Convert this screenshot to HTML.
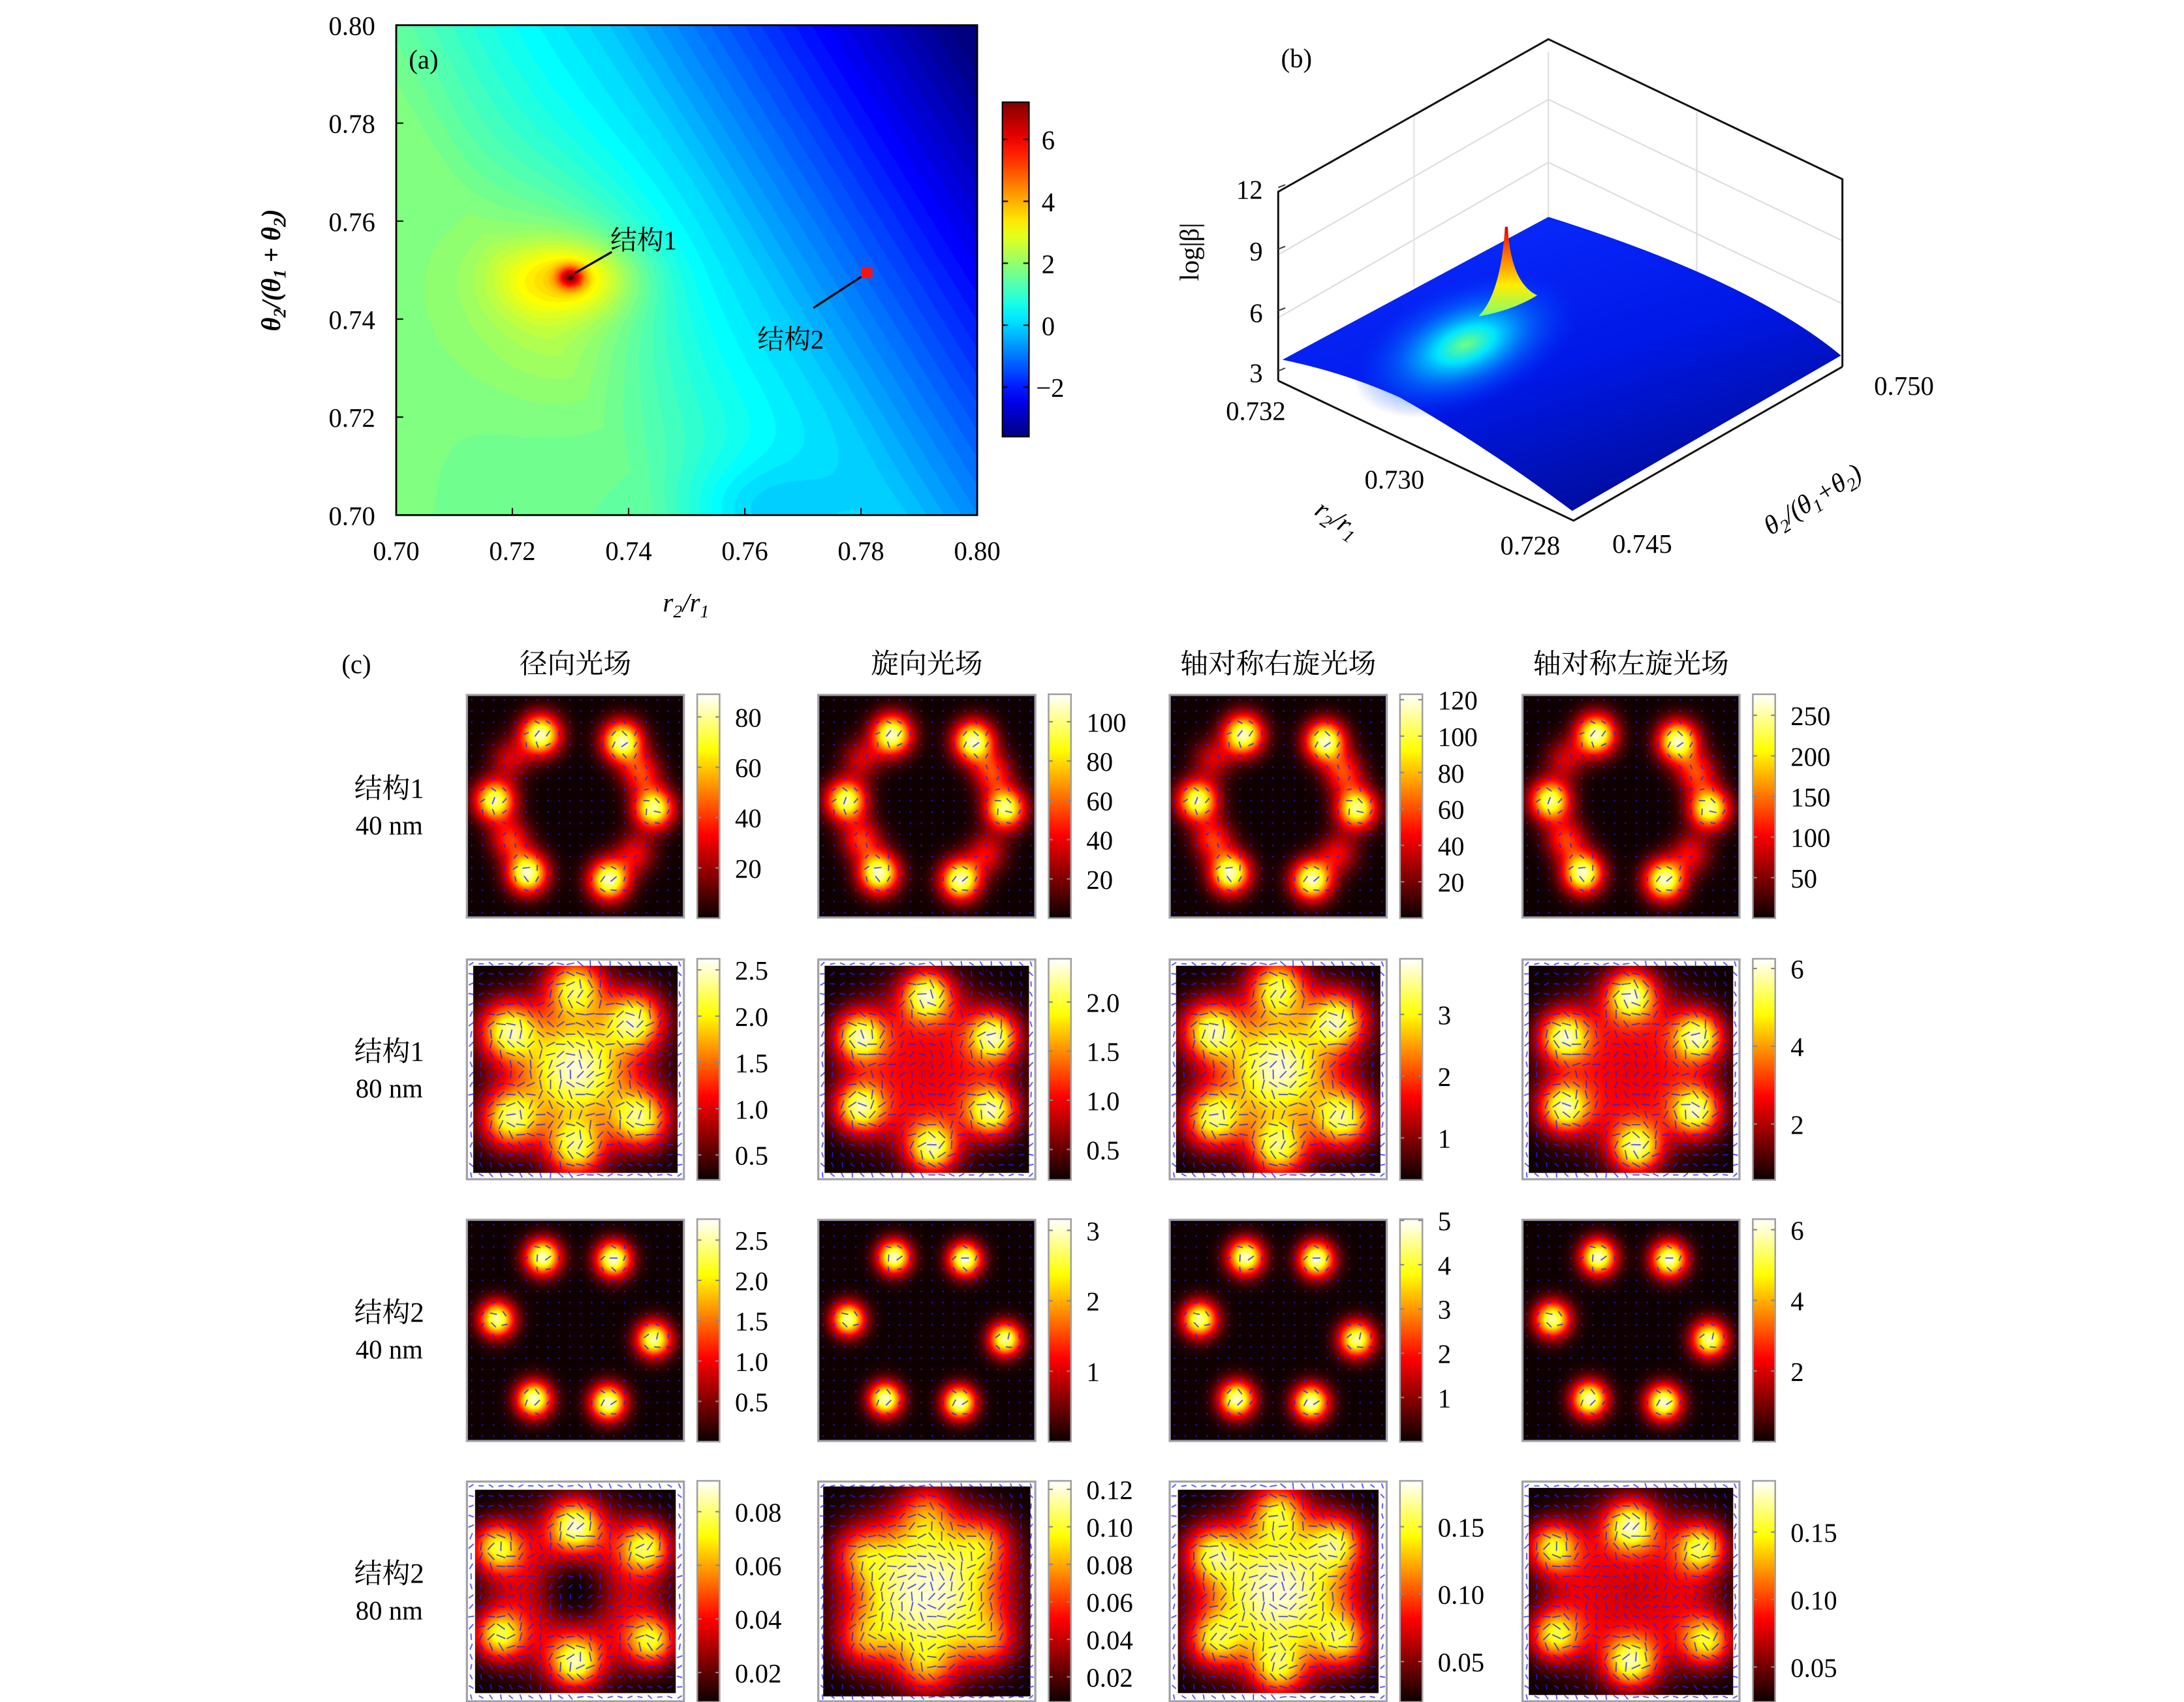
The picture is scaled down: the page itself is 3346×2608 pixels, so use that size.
<!DOCTYPE html>
<html><head><meta charset="utf-8">
<style>
html,body{margin:0;padding:0;background:#fff;}
body{width:3346px;height:2608px;overflow:hidden;position:relative;}
#root{position:absolute;left:0;top:0;width:1560px;height:1216px;transform:scale(2.144872,2.144737);transform-origin:0 0;}
canvas{position:absolute;}
svg{position:absolute;left:0;top:0;}
text{font-family:"Liberation Serif","Noto Serif CJK SC",serif;fill:#000;}
.cjk{font-family:"Liberation Serif","Noto Serif CJK SC","Noto Sans CJK SC",serif;}
</style></head>
<body>
<div id="root">
<canvas id="fieldA" width="830" height="700" style="left:283px;top:18px;width:415px;height:350px"></canvas>
<svg id="svg" width="1560" height="1216" viewBox="0 0 1560 1216">
<defs>
<linearGradient id="jetbar" x1="0" y1="1" x2="0" y2="0"></linearGradient>
<linearGradient id="hotbar" x1="0" y1="1" x2="0" y2="0">
<stop offset="0" stop-color="#0a0000"/><stop offset="0.375" stop-color="#ff0000"/><stop offset="0.75" stop-color="#ffff00"/><stop offset="1" stop-color="#ffffff"/>
</linearGradient>
<linearGradient id="surfBlue" x1="0.2" y1="0" x2="0.8" y2="1">
<stop offset="0" stop-color="#0a2cff"/><stop offset="0.5" stop-color="#0018e8"/><stop offset="1" stop-color="#000a8a"/>
</linearGradient>
<radialGradient id="glow" cx="0.5" cy="0.5" r="0.5">
<stop offset="0" stop-color="#70ff80" stop-opacity="1"/><stop offset="0.25" stop-color="#00f0ff" stop-opacity="0.95"/><stop offset="0.6" stop-color="#0080ff" stop-opacity="0.55"/><stop offset="1" stop-color="#0030ff" stop-opacity="0"/>
</radialGradient>
<linearGradient id="spikeGrad" x1="0" y1="1" x2="0" y2="0">
<stop offset="0" stop-color="#80ff70"/><stop offset="0.35" stop-color="#ffee00"/><stop offset="0.65" stop-color="#ff8000"/><stop offset="1" stop-color="#e00000"/>
</linearGradient>
</defs>
<g id="panelA"></g>
<g id="panelB"></g>
<g id="panelC"></g>
</svg>
</div>
<script>
// ---------- data ----------
const aXTicks = [0.70,0.72,0.74,0.76,0.78,0.80];
const aYTicks = [0.70,0.72,0.74,0.76,0.78,0.80];
const aCbarTicks = [6,4,2,0,-2];
const aCbarRange = [-3.6, 7.2];
const struct1 = [0.730, 0.7485];
const struct2 = [0.781, 0.7495];
const bZTicks = [3,6,9,12];
const bRTicks = ["0.732","0.730","0.728"];
const bThTicks = ["0.745","0.750"];
const colTitles = ["径向光场","旋向光场","轴对称右旋光场","轴对称左旋光场"];
const rowLabels = [["结构1","40 nm"],["结构1","80 nm"],["结构2","40 nm"],["结构2","80 nm"]];
const cbarRanges = [
 [0,89],[0,114],[0,123],[0,276],
 [0.23,2.62],[0.19,2.44],[0.32,3.9],[0.56,6.25],
 [0,2.76],[0,3.16],[0,5.03],[0,6.3],
 [0.009,0.0915],[0.0066,0.1245],[0.02,0.184],[0.024,0.188]];
const cbarTicks = [
 [20,40,60,80],[20,40,60,80,100],[20,40,60,80,100,120],[50,100,150,200,250],
 [0.5,1.0,1.5,2.0,2.5],[0.5,1.0,1.5,2.0],[1,2,3],[2,4,6],
 [0.5,1.0,1.5,2.0,2.5],[1,2,3],[1,2,3,4,5],[2,4,6],
 [0.02,0.04,0.06,0.08],[0.02,0.04,0.06,0.08,0.10,0.12],[0.05,0.10,0.15],[0.05,0.10,0.15]];
const tickDecimals = [0,0,0,0, 1,1,0,0, 1,0,0,0, 2,2,2,2];
const ring40a = [[-0.32,-0.64,1],[0.43,-0.58,1],[-0.74,-0.05,0.95],[0.72,0.02,0.95],[-0.44,0.6,1],[0.31,0.66,1],[0.6,-0.3,0.45],[-0.6,0.3,0.45],[-0.6,-0.42,0.3],[0.55,0.42,0.35]];
const ring40b = [[-0.3,-0.66,1],[0.35,-0.64,1],[-0.72,-0.1,0.95],[0.72,0.08,0.95],[-0.38,0.62,1],[0.3,0.65,1]];
const hex80a = [[-0.62,-0.35,0.85],[0.55,-0.45,0.85],[-0.6,0.45,0.85],[0.6,0.45,0.85],[0,-0.75,0.8],[0,0.72,0.8]];
const hex80b = [[0,-0.68,1],[0.62,-0.3,1],[0.6,0.38,1],[0.05,0.72,1],[-0.62,0.35,1],[-0.62,-0.3,1]];
const cross80 = [[0,-0.6,0.95],[0,0.65,0.95],[-0.72,-0.4,0.95],[0.65,-0.4,0.95],[-0.7,0.4,0.95],[0.7,0.45,0.95]];
const cellLobes = [ring40a,ring40a,ring40a,ring40a, hex80a,hex80b,hex80a,hex80b, ring40b,ring40b,ring40b,ring40b, cross80,hex80a,hex80a,cross80];
const cellLobeScale = [1,1,1,1, 0.75,1,0.75,1, 1,1,1,1, 1,0.35,0.55,1];
const cellSigma = [0.18,0.18,0.18,0.18, 0.26,0.22,0.26,0.22, 0.16,0.15,0.16,0.16, 0.22,0.24,0.24,0.22];
const cellCenter = [0,0,0,0, 0.8,0.4,0.8,0.4, 0,0,0,0, 0,0.85,0.8,0.35];
const cellCenterSigma = [0.3,0.3,0.3,0.3, 0.45,0.45,0.45,0.45, 0.3,0.3,0.3,0.3, 0.25,0.5,0.45,0.35];
const cellBase = [0,0,0,0, 0.1,0.3,0.1,0.3, 0,0,0,0, 0.4,0.3,0.3,0.4];
const cellMargin = [0.01,0.01,0.01,0.01, 0.06,0.06,0.06,0.06, 0.01,0.01,0.01,0.01, 0.08,0.05,0.08,0.06];

// ---------- helpers ----------
const NS="http://www.w3.org/2000/svg";
function el(tag, attrs, parent){const e=document.createElementNS(NS,tag);for(const k in attrs)e.setAttribute(k,attrs[k]);if(parent)parent.appendChild(e);return e;}
function txt(s, x, y, size, anchor, parent, extra){const t=el('text',Object.assign({x:x,y:y,'font-size':size,'text-anchor':anchor||'start'},extra||{}),parent);t.textContent=s;return t;}
function clamp(v){return v<0?0:v>1?1:v;}
function jet(t){t=clamp(t);const r=clamp(1.5-Math.abs(4*t-3)),g=clamp(1.5-Math.abs(4*t-2)),b=clamp(1.5-Math.abs(4*t-1));return [r*255,g*255,b*255];}
function hot(t){t=clamp(t);return [clamp(t/0.375)*255,clamp((t-0.375)/0.375)*255,clamp((t-0.75)/0.25)*255];}
const A=document.getElementById('panelA'), B=document.getElementById('panelB'), C=document.getElementById('panelC');

// ---------- panel A ----------
const aL=283,aR=698,aT=18,aB=368;
function ax(v){return aL+(v-0.70)/0.10*(aR-aL);}
function ay(v){return aB-(v-0.70)/0.10*(aB-aT);}
(function(){
 const cv=document.getElementById('fieldA'),ctx=cv.getContext('2d');const W=cv.width,H=cv.height;
 const img=ctx.createImageData(W,H);
 for(let j=0;j<H;j++)for(let i=0;i<W;i++){
  const u=i/(W-1), w=1-j/(H-1);
  const s=u+0.52*w;
  const d=Math.max(0,s-0.45);
  let v=1.55-3.8*d-2*Math.max(0,d-0.42);
  v+=0.9*Math.exp(-((u-0.28)**2)/0.03-((w-0.45)**2)/0.05);
  v-=0.9*Math.exp(-((u-0.62)**2)/0.02-((w-0.0)**2)/0.012);
  v+=0.2*Math.exp(-((u-0.0)**2)/0.02);
  const du=(u*0.1+0.7-struct1[0]), dw=(w*0.1+0.7-struct1[1]);
  v+=1.6*Math.exp(-(du*du/(0.011*0.011)+dw*dw/(0.0075*0.0075)));
  v+=3.5*Math.exp(-(du*du+dw*dw)/(0.0022*0.0022));
  let t=(v-aCbarRange[0])/(aCbarRange[1]-aCbarRange[0]);
  t=Math.round(t*64)/64;
  const c=jet(t),k=(j*W+i)*4;img.data[k]=c[0];img.data[k+1]=c[1];img.data[k+2]=c[2];img.data[k+3]=255;
 }
 ctx.putImageData(img,0,0);
 ctx.fillStyle='#300000';ctx.beginPath();ctx.arc((struct1[0]-0.7)/0.1*W,(1-(struct1[1]-0.7)/0.1)*H,3,0,7);ctx.fill();
})();
let r=el('rect',{x:aL,y:aT,width:aR-aL,height:aB-aT,fill:'none',stroke:'#000','stroke-width':1.3},A);

aXTicks.forEach(v=>{const x=ax(v);el('line',{x1:x,y1:aB,x2:x,y2:aB-5,stroke:'#000'},A);const t=txt(v.toFixed(2),x,aB+32,19,'middle',A);
 });
aYTicks.forEach(v=>{const y=ay(v);el('line',{x1:aL,y1:y,x2:aL+5,y2:y,stroke:'#000'},A);const t=txt(v.toFixed(2),268,y+7,19,'end',A);
 });
let tl=txt('',490,437,19,'middle',A,{'font-style':'italic'});tl.innerHTML='r<tspan font-size="13" dy="4">2</tspan><tspan dy="-4">/r</tspan><tspan font-size="13" dy="4">1</tspan>';

tl=txt('',0,0,19,'middle',A,{transform:'translate(200,193) rotate(-90)','font-style':'italic','font-weight':'bold'});
tl.innerHTML='θ<tspan font-size="13" dy="4">2</tspan><tspan dy="-4">/(θ</tspan><tspan font-size="13" dy="4">1</tspan><tspan dy="-4"> + θ</tspan><tspan font-size="13" dy="4">2</tspan><tspan dy="-4">)</tspan>';

tl=txt('(a)',292,49,19,'start',A);
let m=el('line',{x1:ax(struct1[0])+3,y1:ay(struct1[1])-3,x2:437,y2:180,stroke:'#000','stroke-width':1.5},A);

tl=txt('结构1',436,178,19,'start',A,{class:'cjk'});
m=el('rect',{x:ax(struct2[0])-4,y:ay(struct2[1])-4,width:8,height:8,fill:'#ff1010'},A);

m=el('line',{x1:ax(struct2[0])-4,y1:ay(struct2[1])+3,x2:581,y2:220,stroke:'#000','stroke-width':1.5},A);

tl=txt('结构2',541,249,19,'start',A,{class:'cjk'});
(function(){const g=document.getElementById('jetbar');for(let i=0;i<=20;i++){const c=jet(i/20);el('stop',{offset:i/20,'stop-color':`rgb(${c.map(Math.round).join(',')})`},g);}})();
const cbT=73,cbB=312,cbL=716,cbW=19;
function cby(v){return cbB-(v-aCbarRange[0])/(aCbarRange[1]-aCbarRange[0])*(cbB-cbT);}
r=el('rect',{x:cbL,y:cbT,width:cbW,height:cbB-cbT,fill:'url(#jetbar)',stroke:'#000','stroke-width':1},A);

aCbarTicks.forEach(v=>{const y=cby(v);el('line',{x1:cbL+cbW-4,y1:y,x2:cbL+cbW,y2:y,stroke:'#000'},A);el('line',{x1:cbL,y1:y,x2:cbL+4,y2:y,stroke:'#000'},A);
 const t=txt(v<0?'−'+Math.abs(v):String(v),v<0?740:744,y+7,19,'start',A);});

// ---------- panel B ----------
(function(){
 const gl=(pts,stroke,w)=>el('polyline',{points:pts,fill:'none',stroke:stroke,'stroke-width':w||1},B);
 gl('913,182 1106,71 1316,172','#ddd');gl('913,227 1106,116 1316,217','#ddd');
 gl('1106,37 1106,155','#ddd');gl('1212,80 1212,205','#ddd');gl('1010,81 1010,205','#e4e4e4');
 let f=gl('913,272 913,137 1106,28 1316,128 1316,262','#111',1.4);
 let s=el('path',{d:'M916,257 L1106,155 Q1250,200 1315,254 L1123,365 Q1060,318 1000,284 Q960,266 916,257 Z',fill:'url(#surfBlue)'},B);
 
 s=el('ellipse',{cx:1047,cy:246,rx:85,ry:45,fill:'url(#glow)',transform:'rotate(-22 1047 246)'},B);
 
 s=el('path',{d:'M1056,226 Q1072,210 1075,162 L1077,162 Q1079,202 1098,211 Q1080,222 1056,226 Z',fill:'url(#spikeGrad)'},B);
 
 f=gl('913,272 1124,372 1316,262','#111',1.4);
 const zT=[265,222,178,134];
 bZTicks.forEach((v,i)=>{el('line',{x1:913,y1:zT[i],x2:918,y2:zT[i]-2,stroke:'#444'},B);const t=txt(String(v),902,zT[i]+8,19,'end',B);
  });
 const rP=[[897,300],[996,349],[1093,396]];
 bRTicks.forEach((v,i)=>{const t=txt(v,rP[i][0],rP[i][1],19,'middle',B);});
 const thP=[[1173,395],[1360,282]];
 bThTicks.forEach((v,i)=>{const t=txt(v,thP[i][0],thP[i][1],19,'middle',B);});
 let t=txt('',0,0,19,'middle',B,{transform:'translate(952,376) rotate(33)','font-style':'italic'});
 t.innerHTML='r<tspan font-size="13" dy="4">2</tspan><tspan dy="-4">/r</tspan><tspan font-size="13" dy="4">1</tspan>';
 
 t=txt('',0,0,19,'middle',B,{transform:'translate(1298,362) rotate(-32)','font-style':'italic'});
 t.innerHTML='θ<tspan font-size="13" dy="4">2</tspan><tspan dy="-4">/(θ</tspan><tspan font-size="13" dy="4">1</tspan><tspan dy="-4">+θ</tspan><tspan font-size="13" dy="4">2</tspan><tspan dy="-4">)</tspan>';
 
 t=txt('log|β|',0,0,19,'middle',B,{transform:'translate(856,180) rotate(-90)'});
 
 t=txt('(b)',915,48,19,'start',B);
})();

// ---------- panel C ----------
const colX=[333,584,835,1087], cellW=156;
const rowY=[496,685,871,1058], cellH=[160,158,159,158];
const cbX=[498,749,1000,1252], cbWc=16;
let t=txt('(c)',244,481,19,'start',C);
colTitles.forEach((s,i)=>{const t=txt(s,colX[i]+cellW/2,481,20,'middle',C,{class:'cjk'});});
rowLabels.forEach((rl,i)=>{const cy=rowY[i]+cellH[i]/2;
 let t=txt(rl[0],278,cy-6,20,'middle',C,{class:'cjk'});
 t=txt(rl[1],278,cy+20,19,'middle',C);});
const root=document.getElementById('root');
for(let ri=0;ri<4;ri++)for(let ci=0;ci<4;ci++){
 const k=ri*4+ci, x0=colX[ci], y0=rowY[ri], h=cellH[ri];
 const cv=document.createElement('canvas');
 
 
 const S=3; cv.width=cellW*S; cv.height=h*S;
 cv.style.left=x0+'px';cv.style.top=y0+'px';cv.style.width=cellW+'px';cv.style.height=h+'px';
 root.insertBefore(cv,document.getElementById('svg'));
 const ctx=cv.getContext('2d'),W=cv.width,H=cv.height,img=ctx.createImageData(W,H);
 const lobes=cellLobes[k],sg=cellSigma[k],mg=cellMargin[k],ls=cellLobeScale[k];
 const raw=(nx,ny)=>{const rr=Math.sqrt(nx*nx+ny*ny);
  let v=cellBase[k]*Math.exp(-((rr-0.5)**2)/0.12);
  v+=cellCenter[k]*Math.exp(-(rr*rr)/(cellCenterSigma[k]**2));
  for(const L of lobes){const dx=nx-L[0],dy=ny-L[1];v+=ls*L[2]*Math.exp(-(dx*dx+dy*dy)/(sg*sg));}
  if(ri===3&&ci===0) v*=1-0.9*Math.exp(-(rr*rr)/0.04);
  return Math.max(0,v);};
 let mx=0;for(let a=0;a<=60;a++)for(let b=0;b<=60;b++){mx=Math.max(mx,raw(-1+a/30,-1+b/30));}
 const intensity=(nx,ny)=>raw(nx,ny)/mx;
 for(let j=0;j<H;j++)for(let i=0;i<W;i++){
  const nx=(i/(W-1))*2-1, ny=(j/(H-1))*2-1, q=(j*W+i)*4;
  let c;
  if(Math.abs(nx)>1-mg||Math.abs(ny)>1-mg) c=[255,255,255];
  else c=hot(intensity(nx,ny)*0.93+0.02);
  img.data[q]=c[0];img.data[q+1]=c[1];img.data[q+2]=c[2];img.data[q+3]=255;}
 ctx.putImageData(img,0,0);
 const n=ri%2===1?22:20; ctx.strokeStyle='rgba(30,30,255,0.85)';ctx.lineWidth=S*0.8;
 for(let a=0;a<n;a++)for(let b=0;b<n;b++){
  const nx=-1+(a+0.5)*2/n, ny=-1+(b+0.5)*2/n;
  const I=intensity(nx,ny); const eps=0.05;
  const gx=raw(nx+eps,ny)-raw(nx-eps,ny), gy=raw(nx,ny+eps)-raw(nx,ny-eps);
  let ang=Math.atan2(gy,gx)+Math.PI/2+((a*7+b*3)%5)*0.25;
  const len=S*(ri%2===1?(1.2+2.2*Math.min(1,I+0.3)):(0.6+2.2*I));
  const px=(nx+1)/2*W, py=(ny+1)/2*H;
  ctx.beginPath();ctx.moveTo(px-Math.cos(ang)*len,py-Math.sin(ang)*len);ctx.lineTo(px+Math.cos(ang)*len,py+Math.sin(ang)*len);ctx.stroke();}
 let fr=el('rect',{x:x0+0.5,y:y0+0.5,width:cellW-1,height:h-1,fill:'none',stroke:'#a0a0a8','stroke-width':1.5},C);
 
 const cb=el('rect',{x:cbX[ci],y:y0,width:cbWc,height:h,fill:'url(#hotbar)',stroke:'#a0a0a0','stroke-width':1.2},C);
 
 const [mn,mxv]=cbarRanges[k];
 cbarTicks[k].forEach(v=>{const y=y0+h-(v-mn)/(mxv-mn)*h;
  el('line',{x1:cbX[ci],y1:y,x2:cbX[ci]+3,y2:y,stroke:'#888'},C);el('line',{x1:cbX[ci]+cbWc-3,y1:y,x2:cbX[ci]+cbWc,y2:y,stroke:'#888'},C);
  const tt=txt(v.toFixed(tickDecimals[k]),cbX[ci]+cbWc+11,y+7,19,'start',C);
  });
}
</script>
</body></html>
